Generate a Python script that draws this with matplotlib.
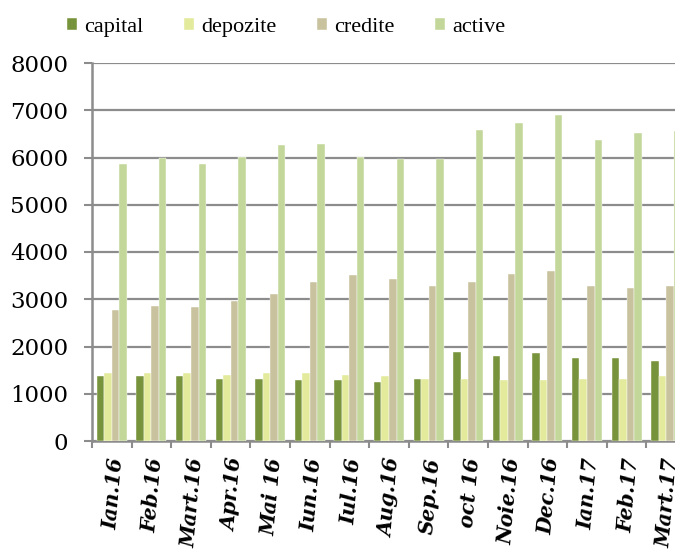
import numpy as np
import matplotlib
matplotlib.use('Agg')
import matplotlib.pyplot as plt
import matplotlib.transforms as mtransforms
from matplotlib.ticker import MultipleLocator

# data
luni = ['Ian.16', 'Feb.16', 'Mart.16', 'Apr.16', 'Mai 16', 'Iun.16', 'Iul.16',
        'Aug.16', 'Sep.16', 'oct 16', 'Noie.16', 'Dec.16', 'Ian.17', 'Feb.17', 'Mart.17']
capital = [1375, 1375, 1375, 1320, 1320, 1300, 1300, 1240, 1320, 1890, 1805, 1860, 1755, 1755, 1700]
depozite = [1430, 1430, 1430, 1405, 1430, 1430, 1405, 1375, 1320, 1320, 1300, 1300, 1320, 1320, 1375]
credite = [2775, 2860, 2830, 2965, 3105, 3365, 3505, 3425, 3290, 3365, 3535, 3590, 3290, 3240, 3290]
active = [5860, 5985, 5860, 6015, 6260, 6295, 6015, 5965, 5965, 6590, 6725, 6890, 6370, 6515, 6565]

serii = ['capital', 'depozite', 'credite', 'active']
culori = ['#77933c', '#e3ea9c', '#c9c29e', '#c4d79b']

fig = plt.figure(figsize=(6.75, 5.52), dpi=100)
ax = fig.add_axes([92/675, 111/552, 594/675, 378/552])

x = np.arange(len(luni))
w = 0.19
for i, (vals, c, nume) in enumerate(zip([capital, depozite, credite, active], culori, serii)):
    ax.bar(x + (i - 1.5) * w, vals, w, color=c, edgecolor='white', linewidth=0.3,
           label=nume, zorder=3)

ax.set_xlim(-0.5, len(luni) - 0.5)
ax.set_ylim(0, 8000)
ax.yaxis.set_major_locator(MultipleLocator(1000))
ax.grid(axis='y', color='#8c8c8c', linewidth=1.6, zorder=0)

for s in ['top', 'right']:
    ax.spines[s].set_visible(False)
for s in ['left', 'bottom']:
    ax.spines[s].set_color('#8c8c8c')
    ax.spines[s].set_linewidth(1.8)

ax.tick_params(axis='y', length=6, width=1.5, color='#8c8c8c', pad=11,
               labelsize=16.5)
for t in ax.get_yticklabels():
    t.set_fontfamily('DejaVu Serif')

ax.set_xticks(x)
ax.set_xticklabels(luni, rotation=85, ha='right', va='center', rotation_mode='anchor',
                   fontfamily='DejaVu Serif', fontweight='bold', fontstyle='italic',
                   fontsize=14.5)
ax.tick_params(axis='x', which='major', length=0, pad=12)
ax.set_xticks(np.arange(-0.5, len(luni)), minor=True)
ax.tick_params(axis='x', which='minor', length=5, width=1.5, color='#8c8c8c')

# small shift to the right, as in the reference
dx = mtransforms.ScaledTranslation(5/100, 0, fig.dpi_scale_trans)
for t in ax.get_xticklabels():
    t.set_transform(t.get_transform() + dx)

fig.legend(loc='center', bbox_to_anchor=(0.424, 0.951), ncol=4, frameon=False,
           prop={'family': 'Liberation Serif', 'size': 16},
           handlelength=0.45, handleheight=0.45, handletextpad=0.35, columnspacing=1.8)

fig.savefig('out.png', dpi=100)
